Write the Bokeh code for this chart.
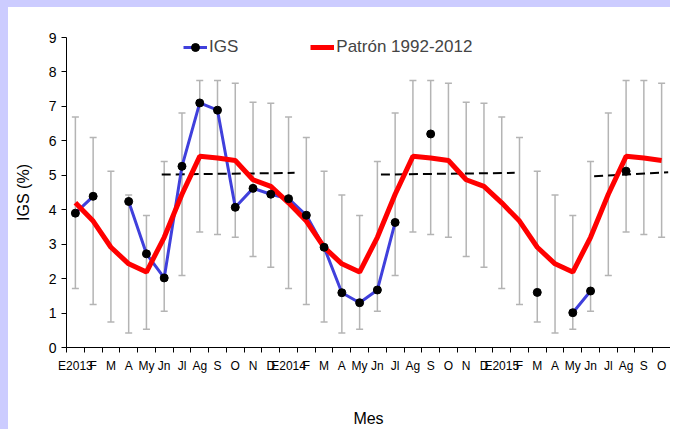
from bokeh.plotting import figure
from bokeh.models import FixedTicker, Legend, LegendItem, ColumnDataSource, Range1d, Spacer
from bokeh.layouts import column, row
from bokeh.embed import file_html
from bokeh.resources import INLINE
import math

nan = float("nan")

months = ["E2013", "F", "M", "A", "My", "Jn", "Jl", "Ag", "S", "O", "N", "D",
          "E2014", "F", "M", "A", "My", "Jn", "Jl", "Ag", "S", "O", "N", "D",
          "E2015", "F", "M", "A", "My", "Jn", "Jl", "Ag", "S", "O"]

igs = [3.90, 4.39, nan, 4.24, 2.72, 2.02, 5.26, 7.10, 6.89, 4.07, 4.62, 4.45,
       4.32, 3.84, 2.91, 1.59, 1.30, 1.67, 3.63, nan, 6.20, nan, nan, nan,
       nan, nan, 1.60, nan, 1.01, 1.64, nan, 5.12, nan, nan]

patron = [4.20, 3.67, 2.91, 2.43, 2.19, 3.20, 4.45, 5.55, 5.50, 5.43, 4.87, 4.68,
          4.20, 3.67, 2.91, 2.43, 2.19, 3.20, 4.45, 5.55, 5.50, 5.43, 4.87, 4.68,
          4.20, 3.67, 2.91, 2.43, 2.19, 3.20, 4.45, 5.55, 5.50, 5.43]

upper = [6.69, 6.10, 5.12, 4.43, 3.83, 5.40, 6.81, 7.75, 7.75, 7.67, 7.12, 7.09,
         6.69, 6.10, 5.12, 4.43, 3.83, 5.40, 6.81, 7.75, 7.75, 7.67, 7.12, 7.09,
         6.69, 6.10, 5.12, 4.43, 3.83, 5.40, 6.81, 7.75, 7.75, 7.67]

lower = [1.71, 1.25, 0.74, 0.42, 0.53, 1.05, 2.09, 3.35, 3.28, 3.20, 2.64, 2.33,
         1.71, 1.25, 0.74, 0.42, 0.53, 1.05, 2.09, 3.35, 3.28, 3.20, 2.64, 2.33,
         1.71, 1.25, 0.74, 0.42, 0.53, 1.05, 2.09, 3.35, 3.28, 3.20]

# dashed mean lines (start/end month position, start/end value)
mean_x0 = [4.86, 17.20, 29.20]
mean_x1 = [12.34, 24.73, 33.37]
mean_y0 = [5.02, 5.02, 4.97]
mean_y1 = [5.07, 5.07, 5.09]

yticks = list(range(0, 10))

FONT = "Liberation Sans"
LAV = "#ccccff"

x = list(range(len(months)))
src = ColumnDataSource(dict(x=x, igs=igs, patron=patron, upper=upper, lower=lower))
dots = ColumnDataSource(dict(x=[i for i, v in zip(x, igs) if not math.isnan(v)],
                             y=[v for v in igs if not math.isnan(v)]))

p = figure(width=662, height=422, x_range=Range1d(-0.5, len(months) - 0.5),
           y_range=Range1d(0, 9), output_backend="svg", toolbar_location=None,
           min_border_left=58, min_border_right=0, min_border_top=30, min_border_bottom=82)
p.background_fill_color = "white"
p.border_fill_color = "white"
p.outline_line_color = None
p.grid.visible = False

# error bars
p.segment(x0="x", y0="lower", x1="x", y1="upper", source=src, line_color="#b4b4b4", line_width=1.5)
p.scatter(x="x", y="upper", source=src, marker="dash", size=7, line_color="#b4b4b4", line_width=1.5)
p.scatter(x="x", y="lower", source=src, marker="dash", size=7, line_color="#b4b4b4", line_width=1.5)

# dashed mean lines
p.segment(x0=mean_x0, y0=mean_y0, x1=mean_x1, y1=mean_y1, line_color="black",
          line_width=2, line_dash="9 5")

r_blue = p.line(x="x", y="igs", source=src, line_color="#4040dc", line_width=3)
r_red = p.line(x="x", y="patron", source=src, line_color="#ff0000", line_width=5)
r_dots = p.scatter(x="x", y="y", source=dots, size=8, fill_color="black", line_color="black")

# axes
xa = p.xaxis[0]
xa.ticker = FixedTicker(ticks=x, minor_ticks=[i - 0.5 for i in range(len(months) + 1)])
xa.major_label_overrides = {i: m for i, m in enumerate(months)}
xa.major_tick_in = 0
xa.major_tick_out = 0
xa.minor_tick_in = 0
xa.minor_tick_out = 5
xa.minor_tick_line_color = "black"
xa.major_label_standoff = 6
xa.major_label_text_font = FONT
xa.major_label_text_font_size = "12px"
xa.major_label_text_color = "black"
xa.axis_line_color = "black"
xa.axis_label = "Mes"
xa.axis_label_text_font = FONT
xa.axis_label_text_font_size = "16px"
xa.axis_label_text_font_style = "normal"
xa.axis_label_text_color = "black"
xa.axis_label_standoff = 34

ya = p.yaxis[0]
ya.ticker = FixedTicker(ticks=yticks)
ya.major_tick_in = 0
ya.major_tick_out = 5
ya.minor_tick_line_color = None
ya.major_label_standoff = 5
ya.major_label_text_font = FONT
ya.major_label_text_font_size = "14px"
ya.major_label_text_color = "black"
ya.axis_line_color = "black"
ya.axis_label = "IGS (%)"
ya.axis_label_text_font = FONT
ya.axis_label_text_font_size = "16px"
ya.axis_label_text_font_style = "normal"
ya.axis_label_text_color = "black"
ya.axis_label_standoff = 14

legend = Legend(items=[LegendItem(label="IGS", renderers=[r_blue, r_dots]),
                       LegendItem(label="Patrón 1992-2012", renderers=[r_red])],
                location=(117, 290), orientation="horizontal", padding=0, margin=0,
                spacing=72, label_standoff=2, glyph_width=24, glyph_height=20,
                label_height=20,
                border_line_color=None, background_fill_alpha=0,
                label_text_font=FONT, label_text_font_size="17px")
p.add_layout(legend, "center")

top_band = Spacer(width=670, height=7, styles={"background-color": LAV})
left_band = Spacer(width=8, height=422, styles={"background-color": LAV})
layout = column(top_band, row(left_band, p, spacing=0), spacing=0)

open("out.html", "w").write(file_html(layout, INLINE))
